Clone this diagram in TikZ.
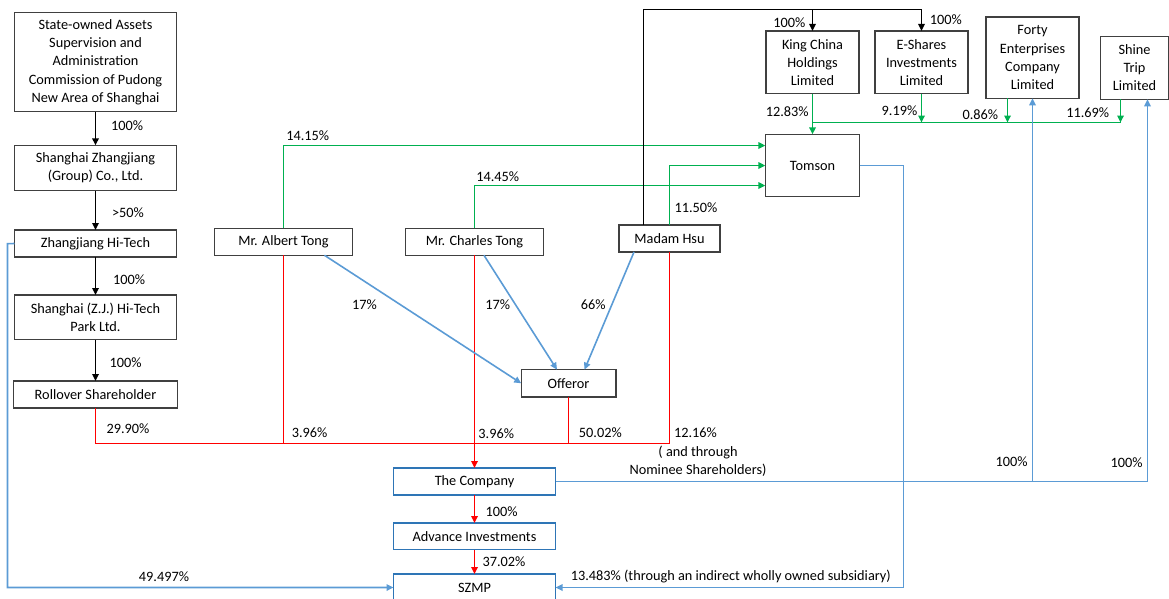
\documentclass[tikz,border=0pt]{standalone}
\usepackage{fontspec}
\setmainfont{Carlito}
\usepackage{xcolor}
\usetikzlibrary{arrows.meta,positioning}

\definecolor{owngreen}{RGB}{0,176,80}
\definecolor{ownred}{RGB}{255,0,0}
\definecolor{ownblue}{RGB}{91,155,213}
\definecolor{boxblue}{RGB}{46,117,182}

\begin{document}
\begin{tikzpicture}[
  x=1pt, y=-1pt,
  font=\fontsize{14.3}{18.2}\selectfont,
  entity/.style={draw=black!75, line width=1.4pt, align=center, inner sep=0pt,
    outer sep=0pt, minimum height=27pt},
  listed/.style={entity, draw=boxblue, minimum width=162pt},
  owns/.style={-{Triangle[length=7pt,width=6.5pt]}, line width=1.6pt},
  greenline/.style={line width=1.6pt, color=owngreen},
  greenarrow/.style={owns, color=owngreen},
  redline/.style={line width=1.6pt, color=ownred},
  redarrow/.style={owns, color=ownred},
  bluearrow/.style={owns, color=ownblue},
  pct/.style={inner sep=0pt}
]
\useasboundingbox (0,0) rectangle (1169,598);

% left column
\node[entity, minimum width=162pt, minimum height=99pt] (sasac) at (95.5,62.2)
  {State-owned Assets\\Supervision and\\Administration\\Commission of Pudong\\New Area of Shanghai};
\node[entity, minimum width=162pt, minimum height=45.4pt, below=33.6pt of sasac] (group)
  {Shanghai Zhangjiang\\(Group) Co., Ltd.};
\node[entity, minimum width=162pt, below=39.3pt of group] (hitech) {Zhangjiang Hi-Tech};
\node[entity, minimum width=162pt, minimum height=44.7pt, below=38pt of hitech] (park)
  {Shanghai (Z.J.) Hi-Tech\\Park Ltd.};
\node[entity, minimum width=164pt, below=41.3pt of park] (rollover) {Rollover Shareholder};

% individuals
\node[entity, minimum width=138.3pt] (albert) at (283.5,241.8) {Mr. Albert Tong};
\node[entity, minimum width=138.5pt] (charles) at (474.5,241.8) {Mr. Charles Tong};
\node[entity, minimum width=101pt] (hsu) at (669.5,238.5) {Madam Hsu};
\node[entity, minimum width=94.6pt, minimum height=27.3pt] (offeror) at (568.5,383.3) {Offeror};

% top right
\node[entity, minimum width=94.3pt, minimum height=62.4pt] (tomson) at (812.5,165.5) {Tomson};
\node[entity, minimum width=92.8pt, minimum height=62.7pt] (kingchina) at (812.5,62.3)
  {King China\\Holdings\\Limited};
\node[entity, minimum width=93pt, minimum height=62.7pt] (eshares) at (921.5,62.3)
  {E-Shares\\Investments\\Limited};
\node[entity, minimum width=93.3pt, minimum height=81.3pt] (forty) at (1032.5,57.7)
  {Forty\\Enterprises\\Company\\Limited};
\node[entity, minimum width=67.5pt, minimum height=63pt] (shine) at (1134.5,67.8)
  {Shine\\Trip\\Limited};

% bottom chain
\node[listed] (company) at (474.5,481.5) {The Company};
\node[listed, minimum height=26.6pt, below=28pt of company] (advance) {Advance Investments};
\node[listed, below=24.4pt of advance] (szmp) {SZMP};

\coordinate (bus) at (0,443.5);
\coordinate (top) at (0,9.5);
\coordinate (drop) at (903.5,587.5);

% state chain
\draw[owns] (sasac.south -| group.north) -- (group.north);
\draw[owns] (group) -- (hitech);
\draw[owns] (hitech) -- (park);
\draw[owns] (park) -- (rollover);
\node[pct] (p1) at (127,126) {100\%};
\node[pct] (p2) at (128,212.3) {>50\%};
\node[pct] (p3) at (129.2,280) {100\%};
\node[pct] (p4) at (125.5,362.7) {100\%};

\draw[bluearrow] (hitech.west) -- (7.5,243.7) |- (szmp.west);
\node[pct] (p5) at (164,576.7) {49.497\%};

% red holdings in the company
\draw[redline] (rollover.south) |- (hsu.south |- bus) -- (hsu.south);
\draw[redline] (albert.south) -- (albert.south |- bus);
\draw[redline] (offeror.south) -- (offeror.south |- bus);
\draw[redarrow] (charles.south) -- (company.north);
\draw[redarrow] (company) -- (advance);
\draw[redarrow] (advance) -- (szmp);
\node[pct] (p6) at (128,428.7) {29.90\%};
\node[pct] (p7) at (309.6,432.3) {3.96\%};
\node[pct] (p8) at (496.2,433.3) {3.96\%};
\node[pct] (p9) at (600.4,432.3) {50.02\%};
\node[pct] (p10) at (695.5,432.3) {12.16\%};
\node[pct, align=center] (p11) at (698,461.5) {( and through\\Nominee Shareholders)};
\node[pct] (p12) at (501.5,511.7) {100\%};
\node[pct] (p13) at (504,561.3) {37.02\%};

% offeror
\draw[bluearrow] ([xshift=41pt]albert.south) -- (offeror.west);
\draw[bluearrow] ([xshift=9.5pt]charles.south) -- ([xshift=-11.5pt]offeror.north);
\draw[bluearrow] ([xshift=-35.5pt]hsu.south) -- ([xshift=16pt]offeror.north);
\node[pct] (p14) at (364.6,304.3) {17\%};
\node[pct] (p15) at (497.8,304.3) {17\%};
\node[pct] (p16) at (593.2,305) {66\%};

% tomson
\draw[greenarrow] (albert.north) |- ([yshift=20pt]tomson.west);
\draw[greenarrow] (hsu.north) |- (tomson.west);
\draw[greenarrow] (charles.north) |- ([yshift=-20pt]tomson.west);
\node[pct] (p17) at (307.7,135.7) {14.15\%};
\node[pct] (p18) at (497.7,176.7) {14.45\%};
\node[pct] (p19) at (696,207.3) {11.50\%};

\draw[owns] ([xshift=-26pt]hsu.north) |- (eshares.north |- top) -- (eshares.north);
\draw[owns] (kingchina.north |- top) -- (kingchina.north);
\node[pct] (p20) at (789.4,22.3) {100\%};
\node[pct] (p21) at (945.8,20) {100\%};

\draw[greenarrow] (kingchina) -- (tomson);
\draw[greenline] (812.5,122.5) -- (1120.5,122.5);
\draw[greenarrow] (eshares.south) -- (921.5,122.5);
\draw[greenarrow] ([xshift=-25pt]forty.south) -- (1007.5,122.5);
\draw[greenarrow] ([xshift=-14pt]shine.south) -- (1120.5,122.5);
\node[pct] (p22) at (787.2,111.7) {12.83\%};
\node[pct] (p23) at (899.5,111) {9.19\%};
\node[pct] (p24) at (980.3,115) {0.86\%};
\node[pct] (p25) at (1087.7,112.7) {11.69\%};

\draw[bluearrow] (tomson.east) -| (drop) -- (szmp.east);
\node[pct] (p26) at (730.8,576.7) {13.483\% (through an indirect wholly owned subsidiary)};

\draw[bluearrow] (company.east) -| ([xshift=13pt]shine.south);
\draw[bluearrow] (forty.south |- company.east) -- (forty.south);
\node[pct] (p27) at (1011.5,461.7) {100\%};
\node[pct] (p28) at (1126.5,462.7) {100\%};
\end{tikzpicture}
\end{document}
